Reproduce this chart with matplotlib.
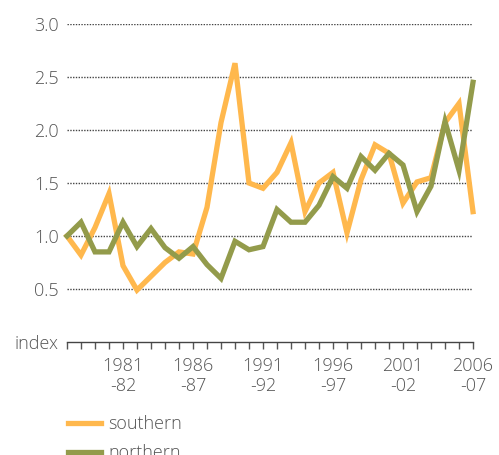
import matplotlib as mpl
mpl.use('Agg')
import matplotlib.pyplot as plt
import numpy as np

# seasons 1977-78 ... 2006-07, x = first year of season
years = np.arange(1977, 2007)
southern = [1.00, 0.82, 1.08, 1.40, 0.72, 0.49, 0.62, 0.75, 0.85, 0.83,
            1.27, 2.07, 2.63, 1.50, 1.45, 1.60, 1.88, 1.23, 1.50, 1.60,
            1.03, 1.53, 1.86, 1.78, 1.31, 1.51, 1.55, 2.07, 2.25, 1.23]
northern = [1.00, 1.13, 0.85, 0.85, 1.13, 0.90, 1.07, 0.89, 0.79, 0.90,
            0.73, 0.60, 0.95, 0.87, 0.90, 1.25, 1.13, 1.13, 1.29, 1.56,
            1.45, 1.75, 1.62, 1.78, 1.67, 1.23, 1.47, 2.08, 1.62, 2.45]
xtick_years = [1981, 1986, 1991, 1996, 2001, 2006]
xtick_labels = ['1981\n-82', '1986\n-87', '1991\n-92', '1996\n-97', '2001\n-02', '2006\n-07']
ytick_vals = [0, 0.5, 1.0, 1.5, 2.0, 2.5, 3.0]
ytick_labels = ['index', '0.5', '1.0', '1.5', '2.0', '2.5', '3.0']

plt.rcParams['font.family'] = ['Open Sans', 'DejaVu Sans']
plt.rcParams['font.weight'] = 'light'
txt = '#555555'

fig = plt.figure(figsize=(4.99, 4.55), dpi=100)
ax = fig.add_axes([67/499, 1-342/455, 406/499, 318/455])

ax.plot(years, southern, color='#FFB84D', lw=3.8, label='southern', clip_on=False, solid_joinstyle='miter')
ax.plot(years, northern, color='#939B4B', lw=3.8, label='northern', clip_on=False, solid_joinstyle='miter')

ax.set_xlim(1977, 2006)
ax.set_ylim(0, 3)

for v in ytick_vals[1:]:
    ax.axhline(v, color='#444444', lw=1, ls=(0, (1, 1)), zorder=0)

for s in ['top', 'right', 'left']:
    ax.spines[s].set_visible(False)
ax.spines['bottom'].set_linestyle((0, (1, 1)))
ax.spines['bottom'].set_color('#444444')
ax.spines['bottom'].set_linewidth(1)

ax.set_yticks(ytick_vals)
ax.set_yticklabels(ytick_labels)
ax.tick_params(axis='y', length=0, pad=6, labelsize=13, labelcolor=txt)

ax.set_xticks(xtick_years)
ax.set_xticklabels(xtick_labels, linespacing=1.15)
ax.set_xticks(years, minor=True)
ax.tick_params(axis='x', which='both', length=5, width=1, color='#555555',
               labelsize=13, labelcolor=txt, pad=6)

# legend sits at the bottom edge, second entry partly cut off as in the original
leg = fig.legend(loc='upper left', bbox_to_anchor=(68/499, 1-415/455), frameon=False,
                 fontsize=13, handlelength=1.8, handletextpad=0.45, labelspacing=0.6,
                 borderaxespad=0, borderpad=0)
for t in leg.get_texts():
    t.set_color(txt)

plt.savefig('out.png', dpi=100)
